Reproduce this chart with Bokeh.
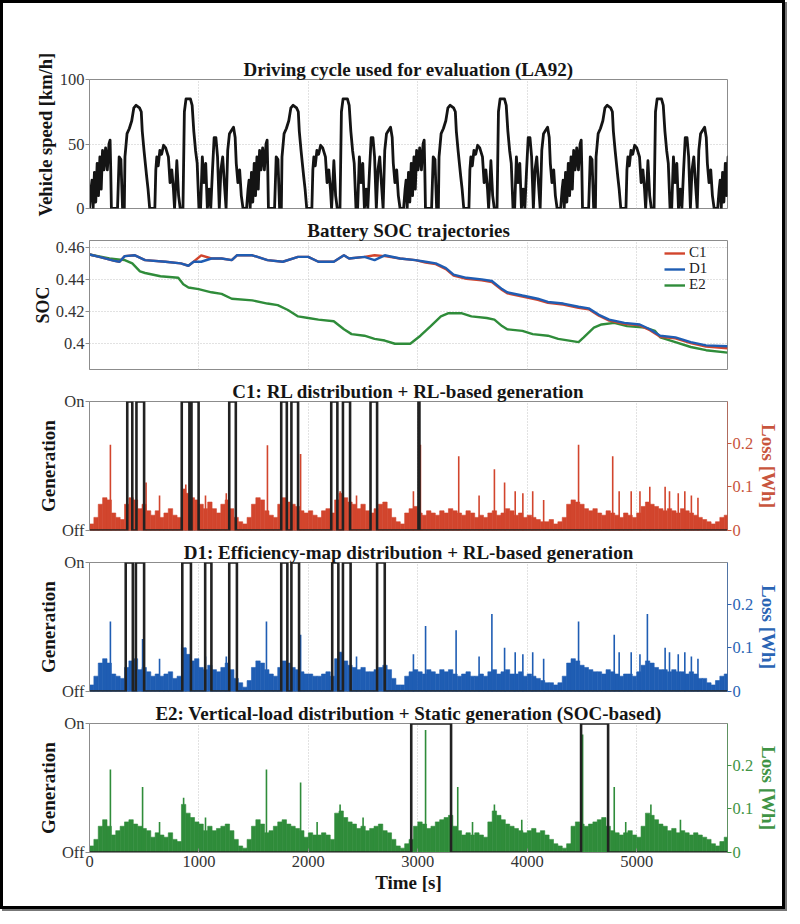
from bokeh.plotting import figure
from bokeh.models import Range1d, LinearAxis, FixedTicker, Title, Legend, LegendItem
from bokeh.layouts import column
from bokeh.embed import file_html
from bokeh.resources import INLINE

# ---------------- data ----------------
T_MAX = 5830
CYCLE_LEN = 1435
N_CYCLES = 5
X_TICKS = [0, 1000, 2000, 3000, 4000, 5000]

# one LA92 cycle (time [s], speed [km/h])
CYCLE_T = [0, 14, 23, 33, 45, 57, 70, 82, 95, 107, 119, 132, 147, 163, 178, 188, 194, 200, 256, 271,
           287, 302, 318, 324, 343, 364, 386, 405, 426, 457, 473, 482, 498, 510, 522, 535, 550, 597, 606, 615,
           628, 643, 659, 677, 696, 721, 736, 752, 767, 777, 789, 798, 814, 829, 854, 867, 882, 922, 938, 953,
           969, 984, 1000, 1015, 1031, 1046, 1062, 1077, 1093, 1108, 1124, 1139, 1155, 1170, 1186, 1201, 1217, 1232, 1248, 1263,
           1279, 1294, 1316, 1331, 1341, 1356, 1372, 1387, 1403, 1435]
CYCLE_V = [0, 15, 22, 0, 28, 5, 35, 10, 40, 15, 45, 30, 47, 30, 50, 53, 30, 0, 0, 40,
           38, 0, 0, 40, 58, 62, 68, 78, 80, 78, 75, 60, 45, 35, 25, 15, 0, 0, 30, 40,
           33, 45, 42, 49, 47, 40, 20, 30, 15, 0, 20, 37, 10, 0, 0, 75, 85, 85, 80, 60,
           45, 35, 0, 0, 40, 20, 35, 0, 15, 0, 30, 55, 55, 40, 0, 30, 40, 20, 0, 45,
           58, 60, 63, 55, 35, 20, 30, 10, 0, 0]

# battery SOC trajectories
SOC_T = [0, 89, 228, 275, 322, 415, 508, 694, 834, 904, 951, 1021, 1114, 1207, 1300, 1347, 1487, 1626, 1766, 1906,
         1999, 2092, 2232, 2325, 2372, 2512, 2605, 2698, 2838, 2978, 3071, 3164, 3257, 3327, 3444, 3584, 3677, 3770, 3817, 3956,
         4096, 4189, 4329, 4469, 4562, 4655, 4749, 4888, 5028, 5121, 5215, 5354, 5494, 5634, 5830]
SOC_C1 = [0.4555, 0.4540, 0.4515, 0.4510, 0.4545, 0.4550, 0.4520, 0.4510, 0.4500, 0.4485, 0.4510, 0.4550, 0.4530, 0.4530, 0.4520,
          0.4550, 0.4550, 0.4520, 0.4510, 0.4540, 0.4540, 0.4510, 0.4510, 0.4550, 0.4530, 0.4540, 0.4550, 0.4545, 0.4530, 0.4520,
          0.4505, 0.4495, 0.4464, 0.4424, 0.4404, 0.4394, 0.4384, 0.4334, 0.4314, 0.4294, 0.4273, 0.4254, 0.4244, 0.4224, 0.4214,
          0.4174, 0.4144, 0.4124, 0.4114, 0.4084, 0.4044, 0.4034, 0.4004, 0.3982, 0.3972]
SOC_D1 = [0.4555, 0.4540, 0.4515, 0.4510, 0.4545, 0.4550, 0.4520, 0.4510, 0.4500, 0.4485, 0.4510, 0.4510, 0.4530, 0.4530, 0.4520,
          0.4550, 0.4550, 0.4520, 0.4510, 0.4540, 0.4540, 0.4510, 0.4510, 0.4550, 0.4530, 0.4540, 0.4520, 0.4550, 0.4530, 0.4520,
          0.4510, 0.4500, 0.4470, 0.4430, 0.4410, 0.4400, 0.4390, 0.4340, 0.4320, 0.4300, 0.4280, 0.4260, 0.4250, 0.4230, 0.4220,
          0.4180, 0.4150, 0.4130, 0.4120, 0.4090, 0.4050, 0.4040, 0.4010, 0.3990, 0.3985]
E2_T = [0, 182, 322, 391, 461, 508, 648, 811, 857, 904, 997, 1114, 1207, 1300, 1487, 1626, 1720, 1813, 1906, 1999,
        2092, 2232, 2325, 2395, 2512, 2605, 2698, 2791, 2931, 3024, 3118, 3211, 3281, 3397, 3490, 3630, 3700, 3770, 3817, 3956,
        4050, 4189, 4283, 4469, 4516, 4609, 4679, 4795, 4912, 5075, 5168, 5215, 5354, 5494, 5634, 5830]
SOC_E2 = [0.4555, 0.4530, 0.4520, 0.4500, 0.4450, 0.4440, 0.4420, 0.4410, 0.4370, 0.4350, 0.4340, 0.4320, 0.4310, 0.4280, 0.4270,
          0.4250, 0.4240, 0.4210, 0.4170, 0.4160, 0.4150, 0.4140, 0.4090, 0.4060, 0.4050, 0.4030, 0.4020, 0.4000, 0.4000, 0.4050,
          0.4110, 0.4170, 0.4190, 0.4190, 0.4170, 0.4160, 0.4150, 0.4110, 0.4090, 0.4080, 0.4060, 0.4050, 0.4030, 0.4010, 0.4040,
          0.4100, 0.4120, 0.4130, 0.4110, 0.4100, 0.4080, 0.4040, 0.4010, 0.3980, 0.3960, 0.3945]

# loss per 40 s bin [Wh]
LOSS_BIN = 40
C1_LOSS = [0.015, 0.03, 0.06, 0.075, 0.07, 0.04, 0.03, 0.025, 0.06, 0.075,
           0.07, 0.05, 0.06, 0.045, 0.035, 0.045, 0.03, 0.04, 0.05, 0.035,
           0.03, 0.095, 0.085, 0.075, 0.07, 0.06, 0.05, 0.065, 0.05, 0.04,
           0.06, 0.07, 0.05, 0.03, 0.02, 0.015, 0.03, 0.06, 0.075, 0.07,
           0.045, 0.035, 0.03, 0.06, 0.075, 0.065, 0.06, 0.055, 0.045, 0.04,
           0.045, 0.035, 0.03, 0.045, 0.05, 0.04, 0.07, 0.085, 0.075, 0.065,
           0.06, 0.05, 0.06, 0.045, 0.04, 0.05, 0.06, 0.065, 0.05, 0.03,
           0.02, 0.015, 0.04, 0.05, 0.055, 0.04, 0.035, 0.045, 0.04, 0.035,
           0.045, 0.04, 0.05, 0.045, 0.04, 0.035, 0.045, 0.04, 0.03, 0.035,
           0.03, 0.04, 0.045, 0.035, 0.04, 0.05, 0.045, 0.035, 0.04, 0.03,
           0.035, 0.03, 0.025, 0.02, 0.02, 0.025, 0.015, 0.02, 0.03, 0.06,
           0.07, 0.065, 0.06, 0.05, 0.045, 0.05, 0.04, 0.035, 0.045, 0.04,
           0.035, 0.03, 0.04, 0.035, 0.03, 0.04, 0.055, 0.065, 0.06, 0.055,
           0.05, 0.045, 0.05, 0.045, 0.04, 0.05, 0.045, 0.04, 0.035, 0.03,
           0.025, 0.02, 0.015, 0.02, 0.03, 0.035]
D1_LOSS = [0.015, 0.035, 0.065, 0.075, 0.065, 0.04, 0.035, 0.03, 0.055, 0.07,
           0.075, 0.05, 0.055, 0.045, 0.035, 0.04, 0.035, 0.04, 0.045, 0.03,
           0.035, 0.1, 0.085, 0.07, 0.075, 0.055, 0.05, 0.06, 0.05, 0.045,
           0.055, 0.065, 0.05, 0.03, 0.02, 0.01, 0.025, 0.055, 0.07, 0.065,
           0.05, 0.04, 0.035, 0.055, 0.07, 0.065, 0.055, 0.05, 0.045, 0.04,
           0.04, 0.035, 0.035, 0.04, 0.045, 0.035, 0.075, 0.09, 0.07, 0.06,
           0.055, 0.05, 0.055, 0.045, 0.045, 0.05, 0.055, 0.06, 0.05, 0.03,
           0.015, 0.015, 0.035, 0.045, 0.05, 0.045, 0.04, 0.05, 0.045, 0.04,
           0.05, 0.045, 0.05, 0.04, 0.035, 0.04, 0.045, 0.035, 0.035, 0.04,
           0.035, 0.045, 0.05, 0.04, 0.045, 0.05, 0.04, 0.04, 0.045, 0.035,
           0.04, 0.035, 0.03, 0.025, 0.02, 0.02, 0.015, 0.02, 0.035, 0.065,
           0.075, 0.07, 0.06, 0.055, 0.05, 0.045, 0.045, 0.04, 0.05, 0.045,
           0.04, 0.035, 0.04, 0.04, 0.035, 0.045, 0.06, 0.07, 0.065, 0.055,
           0.05, 0.05, 0.045, 0.05, 0.045, 0.045, 0.04, 0.045, 0.04, 0.03,
           0.03, 0.02, 0.015, 0.025, 0.035, 0.04]
E2_LOSS = [0.015, 0.03, 0.06, 0.075, 0.06, 0.04, 0.05, 0.06, 0.07, 0.075,
           0.065, 0.06, 0.055, 0.05, 0.035, 0.045, 0.04, 0.035, 0.045, 0.03,
           0.025, 0.11, 0.09, 0.08, 0.07, 0.065, 0.05, 0.06, 0.05, 0.055,
           0.06, 0.065, 0.05, 0.03, 0.015, 0.01, 0.03, 0.06, 0.075, 0.065,
           0.045, 0.05, 0.06, 0.07, 0.075, 0.065, 0.06, 0.055, 0.05, 0.035,
           0.045, 0.04, 0.04, 0.045, 0.04, 0.03, 0.09, 0.095, 0.08, 0.07,
           0.065, 0.055, 0.06, 0.05, 0.055, 0.06, 0.065, 0.05, 0.045, 0.03,
           0.015, 0.01, 0.02, 0.03, 0.06, 0.07, 0.065, 0.055, 0.06, 0.07,
           0.075, 0.08, 0.085, 0.06, 0.05, 0.04, 0.045, 0.04, 0.045, 0.04,
           0.035, 0.07, 0.095, 0.085, 0.075, 0.065, 0.06, 0.055, 0.05, 0.045,
           0.05, 0.055, 0.045, 0.05, 0.04, 0.03, 0.02, 0.015, 0.01, 0.02,
           0.06, 0.07, 0.065, 0.06, 0.065, 0.07, 0.075, 0.08, 0.06, 0.05,
           0.045, 0.04, 0.045, 0.05, 0.04, 0.035, 0.06, 0.09, 0.085, 0.075,
           0.065, 0.06, 0.05, 0.055, 0.045, 0.05, 0.045, 0.04, 0.045, 0.04,
           0.035, 0.03, 0.02, 0.015, 0.025, 0.035]

# individual loss spikes (time [s], height [Wh])
C1_SPIKE_T = [191, 517, 640, 843, 880, 1060, 1250, 1626, 1929, 2290, 2440, 2960, 3024, 3374, 3560, 3700, 3793,
              3890, 3960, 4050, 4150, 4469, 4781, 4840, 4950, 5030, 5120, 5260, 5300, 5380, 5440, 5500, 5560]
C1_SPIKE_H = [0.196, 0.11, 0.08, 0.14, 0.105, 0.08, 0.085, 0.195, 0.175, 0.09, 0.08, 0.09, 0.196, 0.17, 0.08, 0.14, 0.11,
              0.09, 0.085, 0.09, 0.07, 0.196, 0.17, 0.09, 0.09, 0.09, 0.1, 0.1, 0.09, 0.085, 0.09, 0.08, 0.075]
D1_SPIKE_T = [191, 485, 640, 843, 880, 1060, 1250, 1617, 1929, 2290, 2440, 2960, 3071, 3350, 3560, 3677, 3793,
              3890, 3960, 4050, 4150, 4469, 4795, 4840, 4950, 5030, 5098, 5260, 5300, 5380, 5440, 5500, 5560]
D1_SPIKE_H = [0.16, 0.12, 0.075, 0.11, 0.1, 0.08, 0.08, 0.16, 0.13, 0.09, 0.08, 0.085, 0.15, 0.14, 0.08, 0.177, 0.1,
              0.09, 0.085, 0.09, 0.075, 0.16, 0.13, 0.09, 0.09, 0.085, 0.177, 0.1, 0.09, 0.085, 0.09, 0.08, 0.075]
E2_SPIKE_T = [191, 485, 640, 860, 1060, 1617, 1929, 2080, 2290, 2500, 3071, 3365, 3500, 3700, 3950, 4506, 4795, 4900, 5130, 5400]
E2_SPIKE_H = [0.19, 0.15, 0.07, 0.125, 0.08, 0.19, 0.16, 0.07, 0.11, 0.08, 0.28, 0.15, 0.07, 0.11, 0.075, 0.27, 0.15, 0.07, 0.11, 0.075]

# generation on/off intervals [s]
C1_ON = [345, 429, 843, 932, 1277, 1752, 1845, 2209, 2316, 2568, 3006]
C1_OFF = [391, 499, 913, 997, 1337, 1803, 1906, 2265, 2381, 2628, 3015]
D1_ON = [331, 424, 848, 1057, 1277, 1752, 1845, 2218, 2316, 2628]
D1_OFF = [396, 499, 927, 1114, 1347, 1808, 1915, 2274, 2386, 2698]
E2_ON = [2940, 4492]
E2_OFF = [3304, 4739]

TITLES = ["Driving cycle used for evaluation (LA92)",
          "Battery SOC trajectories",
          "C1: RL distribution + RL-based generation",
          "D1: Efficiency-map distribution + RL-based generation",
          "E2: Vertical-load distribution + Static generation (SOC-based)"]
LEGEND_NAMES = ["C1", "D1", "E2"]

# ---------------- styling ----------------
FONT = "Liberation Serif"
RED, BLUE, GREEN = "#d2452d", "#1f5db3", "#2f8c3a"
RED_T, BLUE_T, GREEN_T = "#c8553d", "#2a64b4", "#3f9445"
GRID = "#c4c4c4"
FRAME = "#8c8c8c"
LEFT_B, RIGHT_B = 86, 54


def base_fig(title, top, bottom, y_range, show_x=False):
    p = figure(frame_width=638, frame_height=129, x_range=Range1d(0, T_MAX), y_range=y_range,
               min_border_left=LEFT_B, min_border_right=RIGHT_B, min_border_top=top, min_border_bottom=bottom,
               output_backend="svg", toolbar_location=None, title=title)
    p.title.text_font = FONT
    p.title.text_font_size = "19px"
    p.title.text_font_style = "bold"
    p.title.align = "center"
    p.title.text_color = "#151515"
    p.title.standoff = 0
    p.outline_line_color = FRAME
    p.outline_line_width = 1
    p.background_fill_color = "white"
    p.border_fill_color = "white"
    xa = p.xaxis[0]
    xa.ticker = FixedTicker(ticks=X_TICKS)
    p.xgrid.ticker = FixedTicker(ticks=X_TICKS)
    p.xgrid.grid_line_color = GRID
    p.xgrid.grid_line_dash = "1 2"
    if show_x:
        xa.axis_line_color = FRAME
        xa.major_tick_in = 4
        xa.major_tick_out = 0
        xa.major_tick_line_color = FRAME
        xa.minor_tick_line_color = None
        xa.major_label_text_font = FONT
        xa.major_label_text_font_size = "16.5px"
        xa.major_label_text_color = "#333333"
        xa.major_label_standoff = 3
        xa.axis_label = "Time [s]"
        xa.axis_label_text_font = FONT
        xa.axis_label_text_font_size = "19px"
        xa.axis_label_text_font_style = "bold"
        xa.axis_label_text_color = "#151515"
        xa.axis_label_standoff = 2
    else:
        xa.visible = False
    ya = p.yaxis[0]
    ya.axis_line_color = FRAME
    ya.major_tick_in = 0
    ya.major_tick_out = 4
    ya.major_tick_line_color = FRAME
    ya.minor_tick_line_color = None
    ya.major_label_text_font = FONT
    ya.major_label_text_font_size = "16.5px"
    ya.major_label_text_color = "#333333"
    ya.major_label_standoff = 1
    ya.axis_label_text_font = FONT
    ya.axis_label_text_font_size = "19px"
    ya.axis_label_text_font_style = "bold"
    ya.axis_label_text_color = "#151515"
    ya.axis_label_standoff = 0
    p.ygrid.grid_line_color = GRID
    p.ygrid.grid_line_dash = "1 2"
    return p


# ---- panel 1: speed ----
speed_t, speed_v = [], []
for k in range(N_CYCLES):
    for t, v in zip(CYCLE_T, CYCLE_V):
        tt = t + k * CYCLE_LEN
        if tt <= T_MAX + 60:
            speed_t.append(tt)
            speed_v.append(v)

p1 = base_fig(TITLES[0], 76, 9, Range1d(0, 100))
p1.yaxis[0].ticker = FixedTicker(ticks=[0, 50, 100])
p1.ygrid.ticker = FixedTicker(ticks=[50])
# y-axis title is longer than the frame: side title anchored near the bottom, shifted down
speed_title = Title(text="Vehicle speed [km/h]", align="left", offset=-8, standoff=1,
                    text_font=FONT, text_font_size="18.5px", text_font_style="bold",
                    text_color="#151515")
p1.add_layout(speed_title, "left")
p1.line(speed_t, speed_v, line_color="#141414", line_width=2.8, line_join="round")

# ---- panel 2: SOC ----
p2 = base_fig(TITLES[1], 23, 9, Range1d(0.384, 0.4642))
p2.yaxis[0].ticker = FixedTicker(ticks=[0.40, 0.42, 0.44, 0.46])
p2.yaxis[0].major_label_overrides = {0.4: "0.4", 0.42: "0.42", 0.44: "0.44", 0.46: "0.46"}
p2.ygrid.ticker = FixedTicker(ticks=[0.40, 0.42, 0.44, 0.46])
p2.yaxis[0].axis_label = "SOC"
p2.yaxis[0].axis_label_text_font_size = "18px"
r_e2 = p2.line(E2_T, SOC_E2, line_color=GREEN, line_width=2.4)
r_c1 = p2.line(SOC_T, SOC_C1, line_color=RED, line_width=2.4)
r_d1 = p2.line(SOC_T, SOC_D1, line_color=BLUE, line_width=2.4)
for name, rend, ly in zip(LEGEND_NAMES, [r_c1, r_d1, r_e2], [108, 92, 76]):
    lg = Legend(items=[LegendItem(label=name, renderers=[rend])], location=(575, ly))
    lg.border_line_color = None
    lg.background_fill_alpha = 0.0
    lg.padding = 0
    lg.margin = 0
    lg.label_height = 14
    lg.glyph_height = 14
    lg.glyph_width = 21
    lg.label_standoff = 4
    lg.label_text_font = FONT
    lg.label_text_font_size = "15px"
    lg.label_text_color = "#222222"
    p2.add_layout(lg)


# ---- panels 3-5: generation + loss ----
def gen_fig(title, top, bottom, loss, spike_t, spike_h, on, off, fill, tcolor, show_x=False):
    p = base_fig(title, top, bottom, Range1d(0, 1), show_x=show_x)
    ya = p.yaxis[0]
    ya.ticker = FixedTicker(ticks=[0, 1])
    ya.major_label_overrides = {0: "Off", 1: "On"}
    ya.axis_label = "Generation"
    p.ygrid.visible = False
    p.extra_y_ranges = {"loss": Range1d(0, 0.295)}
    ra = LinearAxis(y_range_name="loss", ticker=FixedTicker(ticks=[0, 0.1, 0.2]))
    ra.axis_label = "Loss [Wh]"
    ra.axis_line_color = tcolor
    ra.axis_line_alpha = 0.6
    ra.major_tick_in = 0
    ra.major_tick_out = 4
    ra.major_tick_line_color = tcolor
    ra.minor_tick_line_color = None
    ra.major_label_text_font = FONT
    ra.major_label_text_font_size = "16.5px"
    ra.major_label_text_color = tcolor
    ra.major_label_standoff = 1
    ra.axis_label_text_font = FONT
    ra.axis_label_text_font_size = "19px"
    ra.axis_label_text_font_style = "bold"
    ra.axis_label_text_color = tcolor
    ra.axis_label_standoff = 2
    p.add_layout(ra, "right")
    centers = [LOSS_BIN / 2 + LOSS_BIN * i for i in range(len(loss))]
    p.vbar(x=centers, top=loss, bottom=0, width=LOSS_BIN, fill_color=fill, line_color=fill,
           line_width=0.6, y_range_name="loss")
    p.segment(x0=spike_t, y0=[0] * len(spike_t), x1=spike_t, y1=spike_h, line_color=fill,
              line_width=1.6, y_range_name="loss")
    gx, gy = [0], [0]
    for a, b in zip(on, off):
        gx += [a, a, b, b]
        gy += [0, 1, 1, 0]
    gx.append(T_MAX)
    gy.append(0)
    p.line(gx, gy, line_color="#222222", line_width=2.6, line_join="miter")
    return p


p3 = gen_fig(TITLES[2], 22, 9, C1_LOSS, C1_SPIKE_T, C1_SPIKE_H, C1_ON, C1_OFF, RED, RED_T)
p4 = gen_fig(TITLES[3], 22, 9, D1_LOSS, D1_SPIKE_T, D1_SPIKE_H, D1_ON, D1_OFF, BLUE, BLUE_T)
p5 = gen_fig(TITLES[4], 22, 54, E2_LOSS, E2_SPIKE_T, E2_SPIKE_H, E2_ON, E2_OFF, GREEN, GREEN_T, show_x=True)

layout = column(p1, p2, p3, p4, p5, spacing=0,
                styles={"border": "3px solid #000000", "box-shadow": "2px 2px 0px #777777",
                        "background-color": "white"})

open("out.html", "w").write(file_html(layout, INLINE))
